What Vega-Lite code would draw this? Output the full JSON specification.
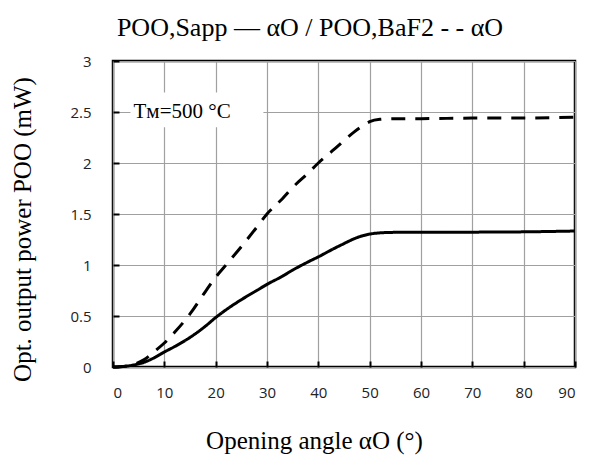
{
  "$schema": "https://vega.github.io/schema/vega-lite/v6.json",
  "width": 462,
  "height": 306,
  "autosize": {"type": "none"},
  "padding": {"left": 113, "top": 61, "right": 21, "bottom": 92},
  "background": "white",
  "title": {
    "text": "POO,Sapp — αO / POO,BaF2 - - αO",
    "font": "Liberation Serif",
    "fontSize": 26,
    "fontWeight": "normal",
    "color": "black",
    "anchor": "middle",
    "offset": 13,
    "dx": -34
  },
  "config": {
    "view": {"stroke": "black", "strokeWidth": 2.5},
    "axis": {
      "domain": false,
      "gridColor": "#a0a0a0",
      "gridWidth": 1.2,
      "gridOpacity": 1,
      "ticks": true,
      "tickColor": "black",
      "tickWidth": 2,
      "tickSize": -6,
      "labelFont": "Open Sans",
      "labelFontSize": 15,
      "labelColor": "#222",
      "titleFont": "Liberation Serif",
      "titleFontSize": 25,
      "titleFontWeight": "normal",
      "titleColor": "black"
    }
  },
  "datasets": {
    "curves": [
      {"angle": 0, "power": 0, "series": "Sapp"},
      {"angle": 2, "power": 0.005, "series": "Sapp"},
      {"angle": 4, "power": 0.02, "series": "Sapp"},
      {"angle": 6, "power": 0.045, "series": "Sapp"},
      {"angle": 8, "power": 0.09, "series": "Sapp"},
      {"angle": 10, "power": 0.147, "series": "Sapp"},
      {"angle": 12, "power": 0.2, "series": "Sapp"},
      {"angle": 15, "power": 0.29, "series": "Sapp"},
      {"angle": 18, "power": 0.4, "series": "Sapp"},
      {"angle": 20, "power": 0.485, "series": "Sapp"},
      {"angle": 22, "power": 0.56, "series": "Sapp"},
      {"angle": 25, "power": 0.66, "series": "Sapp"},
      {"angle": 28, "power": 0.75, "series": "Sapp"},
      {"angle": 30, "power": 0.81, "series": "Sapp"},
      {"angle": 33, "power": 0.89, "series": "Sapp"},
      {"angle": 35, "power": 0.95, "series": "Sapp"},
      {"angle": 38, "power": 1.03, "series": "Sapp"},
      {"angle": 40, "power": 1.08, "series": "Sapp"},
      {"angle": 43, "power": 1.16, "series": "Sapp"},
      {"angle": 45, "power": 1.21, "series": "Sapp"},
      {"angle": 46, "power": 1.235, "series": "Sapp"},
      {"angle": 48, "power": 1.277, "series": "Sapp"},
      {"angle": 50, "power": 1.303, "series": "Sapp"},
      {"angle": 52, "power": 1.315, "series": "Sapp"},
      {"angle": 55, "power": 1.32, "series": "Sapp"},
      {"angle": 60, "power": 1.32, "series": "Sapp"},
      {"angle": 70, "power": 1.322, "series": "Sapp"},
      {"angle": 80, "power": 1.325, "series": "Sapp"},
      {"angle": 90, "power": 1.333, "series": "Sapp"},
      {"angle": 0, "power": 0, "series": "BaF2"},
      {"angle": 2, "power": 0.005, "series": "BaF2"},
      {"angle": 4, "power": 0.025, "series": "BaF2"},
      {"angle": 6, "power": 0.07, "series": "BaF2"},
      {"angle": 8, "power": 0.15, "series": "BaF2"},
      {"angle": 10, "power": 0.235, "series": "BaF2"},
      {"angle": 12, "power": 0.34, "series": "BaF2"},
      {"angle": 15, "power": 0.52, "series": "BaF2"},
      {"angle": 18, "power": 0.74, "series": "BaF2"},
      {"angle": 20, "power": 0.88, "series": "BaF2"},
      {"angle": 22, "power": 1.0, "series": "BaF2"},
      {"angle": 25, "power": 1.18, "series": "BaF2"},
      {"angle": 28, "power": 1.37, "series": "BaF2"},
      {"angle": 30, "power": 1.5, "series": "BaF2"},
      {"angle": 33, "power": 1.65, "series": "BaF2"},
      {"angle": 35, "power": 1.76, "series": "BaF2"},
      {"angle": 38, "power": 1.9, "series": "BaF2"},
      {"angle": 40, "power": 2.0, "series": "BaF2"},
      {"angle": 43, "power": 2.13, "series": "BaF2"},
      {"angle": 45, "power": 2.22, "series": "BaF2"},
      {"angle": 47, "power": 2.305, "series": "BaF2"},
      {"angle": 48.5, "power": 2.36, "series": "BaF2"},
      {"angle": 50, "power": 2.405, "series": "BaF2"},
      {"angle": 52, "power": 2.428, "series": "BaF2"},
      {"angle": 55, "power": 2.435, "series": "BaF2"},
      {"angle": 60, "power": 2.435, "series": "BaF2"},
      {"angle": 70, "power": 2.44, "series": "BaF2"},
      {"angle": 80, "power": 2.44, "series": "BaF2"},
      {"angle": 90, "power": 2.45, "series": "BaF2"}
    ],
    "note": [
      {"x1": 3.4, "x2": 29.3, "y1": 2.35, "y2": 2.69, "tx": 4, "ty": 2.5, "label": "Tᴍ=500 °C"}
    ]
  },
  "layer": [
    {
      "data": {"name": "note"},
      "mark": {"type": "rect", "fill": "white", "stroke": null},
      "encoding": {
        "x": {"field": "x1", "type": "quantitative", "scale": {"domain": [0, 90], "nice": false},
          "axis": {"values": [0, 10, 20, 30, 40, 50, 60, 70, 80, 90], "ticks": true, "tickSize": -6, "title": "Opening angle αO (°)", "titlePadding": 28, "titleX": 201, "labelPadding": 24}},
        "x2": {"field": "x2"},
        "y": {"field": "y1", "type": "quantitative", "scale": {"domain": [0, 3], "nice": false},
          "axis": {"values": [0, 0.5, 1, 1.5, 2, 2.5, 3], "ticks": true, "tickSize": -6, "format": "~g", "title": "Opt. output power POO (mW)", "titlePadding": 34, "titleY": 168, "labelPadding": 28}},
        "y2": {"field": "y2"}
      }
    },
    {
      "data": {"name": "note"},
      "mark": {"type": "text", "align": "left", "baseline": "middle", "font": "Liberation Serif", "fontSize": 21, "color": "black"},
      "encoding": {
        "x": {"field": "tx", "type": "quantitative"},
        "y": {"field": "ty", "type": "quantitative"},
        "text": {"field": "label"}
      }
    },
    {
      "data": {"name": "curves"},
      "mark": {"type": "line", "interpolate": "monotone", "strokeWidth": 3, "color": "black"},
      "encoding": {
        "x": {"field": "angle", "type": "quantitative"},
        "y": {"field": "power", "type": "quantitative"},
        "detail": {"field": "series"},
        "strokeDash": {"field": "series", "type": "nominal", "scale": {"domain": ["Sapp", "BaF2"], "range": [[1, 0], [14, 10]]}, "legend": null}
      }
    }
  ]
}
